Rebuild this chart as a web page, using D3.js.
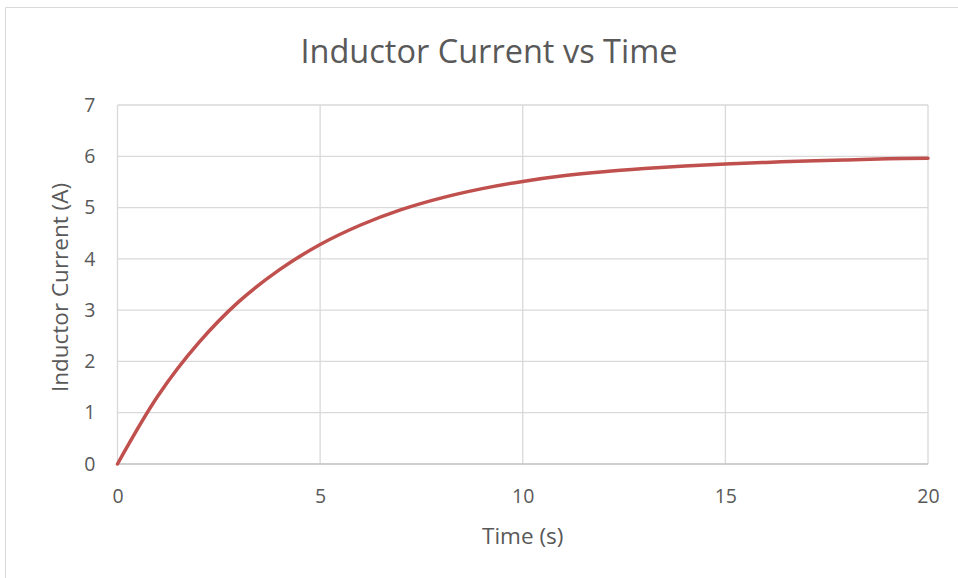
<!DOCTYPE html>
<html>
<head>
<meta charset="utf-8">
<script src="https://cdn.jsdelivr.net/npm/d3@7"></script>
<style>
  body { margin: 0; background: #fff; }
  text { font-family: "Open Sans", sans-serif; fill: #595959; }
</style>
</head>
<body>
<script>
// values, one per second
let times = [0, 1, 2, 3, 4, 5, 6, 7, 8, 9, 10, 11, 12, 13, 14, 15, 16, 17, 18, 19, 20];
let currents = [0, 1.33, 2.36, 3.17, 3.79, 4.28, 4.66, 4.96, 5.19, 5.37, 5.51,
                5.62, 5.70, 5.76, 5.81, 5.85, 5.88, 5.91, 5.93, 5.95, 5.96];
let xTicks = [0, 5, 10, 15, 20];
let yTicks = [0, 1, 2, 3, 4, 5, 6, 7];

let width = 958,
    height = 578,
    margin = {top: 105, right: 30, bottom: 114, left: 117.5},
    innerWidth = width - margin.left - margin.right,
    innerHeight = height - margin.top - margin.bottom;

let svg = d3.select("body").append("svg").attr("width", width).attr("height", height);

// chart border (right and bottom edges fall outside the picture)
svg.append("path")
    .attr("d", "M5.5," + height + "V7.5H" + width)
    .attr("fill", "none").attr("stroke", "#d9d9d9");

let canvas = svg.append("g").attr("transform", "translate(" + margin.left + "," + margin.top + ")");

let x = d3.scaleLinear().domain([0, 20]).range([0, innerWidth]);
let y = d3.scaleLinear().domain([0, 7]).range([innerHeight, 0]);

// grid
canvas.append("g")
    .selectAll("line").data(yTicks.filter(d => d > 0)).enter().append("line")
    .attr("x1", 0).attr("x2", innerWidth)
    .attr("y1", d => y(d)).attr("y2", d => y(d))
    .attr("stroke", "#d9d9d9").attr("stroke-width", 1.3);

canvas.append("g")
    .selectAll("line").data(xTicks.filter(d => d > 0)).enter().append("line")
    .attr("x1", d => x(d)).attr("x2", d => x(d))
    .attr("y1", 0).attr("y2", innerHeight)
    .attr("stroke", "#d9d9d9").attr("stroke-width", 1.3);

canvas.append("line")
    .attr("x1", 0).attr("x2", 0).attr("y1", 0).attr("y2", innerHeight)
    .attr("stroke", "#d9d9d9").attr("stroke-width", 1.3);

canvas.append("line")
    .attr("x1", 0).attr("x2", innerWidth).attr("y1", innerHeight).attr("y2", innerHeight)
    .attr("stroke", "#bfbfbf").attr("stroke-width", 1.3);

// axes (labels only)
let xAxis = canvas.append("g")
    .attr("transform", "translate(0," + innerHeight + ")")
    .call(d3.axisBottom(x).tickValues(xTicks).tickFormat(d3.format("d")).tickSize(0).tickPadding(25));
xAxis.select(".domain").remove();
xAxis.selectAll("text").style("font-size", "19.5px").attr("fill", "#595959");

let yAxis = canvas.append("g")
    .call(d3.axisLeft(y).tickValues(yTicks).tickFormat(d3.format("d")).tickSize(0).tickPadding(22));
yAxis.select(".domain").remove();
yAxis.selectAll("text").style("font-size", "19.5px").attr("fill", "#595959");

let line = d3.line()
    .x(function(d, i) { return x(times[i]); })
    .y(function(d) { return y(d); })
    .curve(d3.curveCatmullRom);

canvas.append("path")
    .datum(currents)
    .attr("fill", "none")
    .attr("stroke", "#c0504d")
    .attr("stroke-width", 3.5)
    .attr("stroke-linejoin", "round")
    .attr("stroke-linecap", "round")
    .attr("d", line);

svg.append("text")
    .attr("x", 489).attr("y", 63)
    .attr("text-anchor", "middle")
    .style("font-size", "32.5px")
    .text("Inductor Current vs Time");

svg.append("text")
    .attr("x", margin.left + innerWidth / 2).attr("y", 544)
    .attr("text-anchor", "middle")
    .style("font-size", "22.5px")
    .text("Time (s)");

svg.append("text")
    .attr("transform", "translate(68," + (margin.top + innerHeight / 2 + 3) + ") rotate(-90)")
    .attr("text-anchor", "middle")
    .style("font-size", "22.5px")
    .text("Inductor Current (A)");
</script>
</body>
</html>
